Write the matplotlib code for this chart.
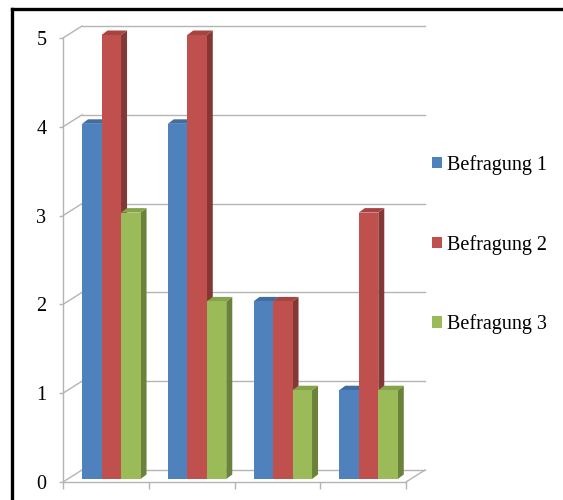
import matplotlib
matplotlib.use("Agg")
import matplotlib.pyplot as plt
from matplotlib.patches import Polygon, Patch
from matplotlib.lines import Line2D
import numpy as np

# Survey results per category (four groups, three survey rounds)
categories = ["1", "2", "3", "4"]
befragung_1 = [4, 4, 2, 1]
befragung_2 = [5, 5, 2, 3]
befragung_3 = [3, 2, 1, 1]
series_labels = ["Befragung 1", "Befragung 2", "Befragung 3"]
y_ticks = [0, 1, 2, 3, 4, 5]

series = [befragung_1, befragung_2, befragung_3]
front_colors = ["#4F81BD", "#C0504D", "#9BBB59"]
top_colors = ["#426DA3", "#A64441", "#86A34C"]
side_colors = ["#36597F", "#853735", "#6A8239"]
grid_color = "#b4b4b4"

plt.rcParams["font.family"] = ["Liberation Serif", "DejaVu Serif"]

W, H = 563, 500
fig = plt.figure(figsize=(W / 100, H / 100), dpi=100)
ax = fig.add_axes([0, 0, 1, 1])
ax.set_facecolor("none")

# pixel-to-data mapping for the front plane
x0_px, cat_px = 63, 85.75
y0_px, unit_px = 482, 88.8
ax.set_xlim(-x0_px / cat_px, (W - x0_px) / cat_px)
ax.set_ylim(-(H - y0_px) / unit_px, y0_px / unit_px)

n_cat = len(categories)
ymax = y_ticks[-1]

# depth of the back wall and of the bars
DX, DY = 19 / cat_px, 12 / unit_px
bar_shift_y = 0.25 * DY
bar_dx, bar_dy = 6 / cat_px, 4.5 / unit_px
bar_w = 19.5 / cat_px

# back wall gridlines and side-wall diagonals
for v in y_ticks:
    ax.add_line(Line2D([DX, n_cat + DX], [v + DY, v + DY], color=grid_color, lw=1, zorder=1))
    ax.add_line(Line2D([0, DX], [v, v + DY], color=grid_color, lw=1, zorder=1))
# floor right edge
ax.add_line(Line2D([n_cat, n_cat + DX], [0, DY], color=grid_color, lw=1, zorder=1))

# 3D-looking bars
n_ser = len(series)
for i in range(n_cat):
    center = i + 0.5 + 0.063
    for s in range(n_ser):
        v = series[s][i]
        left = center - n_ser * bar_w / 2 + s * bar_w
        right = left + bar_w
        base = bar_shift_y
        top = base + v
        z = 3 + i * 10 + s
        front = Polygon([(left, base), (right, base), (right, top), (left, top)],
                        closed=True, facecolor=front_colors[s], edgecolor="none", zorder=z)
        side = Polygon([(right, base), (right + bar_dx, base + bar_dy),
                        (right + bar_dx, top + bar_dy), (right, top)],
                       closed=True, facecolor=side_colors[s], edgecolor="none", zorder=z)
        topf = Polygon([(left, top), (right, top), (right + bar_dx, top + bar_dy),
                        (left + bar_dx, top + bar_dy)],
                       closed=True, facecolor=top_colors[s], edgecolor="none", zorder=z)
        ax.add_patch(side)
        ax.add_patch(topf)
        ax.add_patch(front)

# front axes
for name in ["top", "right"]:
    ax.spines[name].set_visible(False)
ax.spines["left"].set_position(("data", 0))
ax.spines["left"].set_bounds(0, ymax)
ax.spines["bottom"].set_position(("data", 0))
ax.spines["bottom"].set_bounds(0, n_cat)
for name in ["left", "bottom"]:
    ax.spines[name].set_color(grid_color)
    ax.spines[name].set_linewidth(1)
    ax.spines[name].set_zorder(50)

ax.set_yticks(y_ticks)
ax.set_yticklabels([str(t) for t in y_ticks])
ax.set_xticks(np.arange(n_cat + 1))
ax.set_xticklabels([])
ax.tick_params(axis="y", direction="out", length=3, width=1, color=grid_color,
               labelsize=14.5, pad=9, labelcolor="black")
ax.tick_params(axis="x", direction="out", length=5, width=1, color=grid_color)

# legend
handles = [Patch(facecolor=c, edgecolor="none") for c in front_colors]
fig.legend(handles, series_labels, loc="upper left",
           bbox_to_anchor=(432 / W, 1 - 155 / H), bbox_transform=fig.transFigure,
           frameon=False, fontsize=14.5, handlelength=0.5, handleheight=0.5,
           handletextpad=0.25, labelspacing=2.97, borderpad=0, borderaxespad=0)

# outer chart frame
fig.add_artist(Line2D([11.5 / W, 11.5 / W], [-0.05, 1 - 8.5 / H], color="black",
                      lw=2.4, transform=fig.transFigure))
fig.add_artist(Line2D([11.5 / W, 1.05], [1 - 8.5 / H, 1 - 8.5 / H], color="black",
                      lw=2.4, transform=fig.transFigure))

fig.savefig("out.png", dpi=100)
